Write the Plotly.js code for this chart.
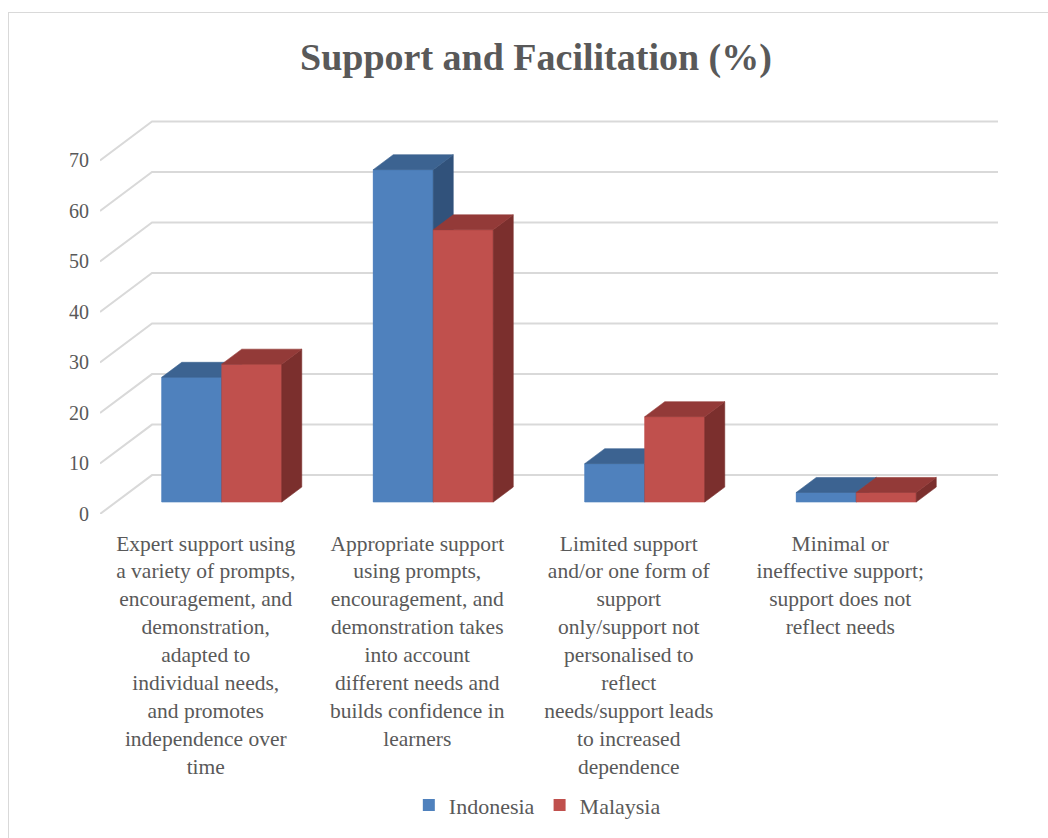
<!DOCTYPE html>
<html><head><meta charset="utf-8">
<script src="https://cdn.plot.ly/plotly-3.0.1.min.js"></script>
<style>
html,body{margin:0;padding:0;background:#fff;overflow:hidden}
#frame{position:absolute;left:8px;top:12px;width:1100px;height:900px;border:1px solid #d9d9d9;box-sizing:border-box}
#chart{position:absolute;left:0;top:0;width:1048px;height:838px}
</style></head><body>
<div id="frame"></div>
<div id="chart"></div>
<script>
// ---- data ----
const categories = [
  "Expert support using<br>a variety of prompts,<br>encouragement, and<br>demonstration,<br>adapted to<br>individual needs,<br>and promotes<br>independence over<br>time",
  "Appropriate support<br>using prompts,<br>encouragement, and<br>demonstration takes<br>into account<br>different needs and<br>builds confidence in<br>learners",
  "Limited support<br>and/or one form of<br>support<br>only/support not<br>personalised to<br>reflect<br>needs/support leads<br>to increased<br>dependence",
  "Minimal or<br>ineffective support;<br>support does not<br>reflect needs"
];
const indonesia = [24.7, 65.8, 7.6, 1.9];
const malaysia  = [27.3, 53.9, 16.9, 1.9];
const seriesNames = ["Indonesia", "Malaysia"];
const yTicks = [0, 10, 20, 30, 40, 50, 60, 70];
const chartTitle = "Support and Facilitation (%)";

// ---- styling / projection constants ----
const FONT = "Liberation Serif, Times New Roman, serif";
const TXT = "#595959";
const GRID = "#d9d9d9";
const depthX = 0.2459;   // full floor depth, in category units
const depthY = 7.7;      // full floor depth, in value units
const f0 = 0.3075, f1 = 0.6925; // bar front / back depth fractions
const barW = 0.2837;
const colors = [
  {front: "#4f81bd", top: "#3c6391", side: "#31527b"},
  {front: "#c0504d", top: "#933a38", side: "#7b2f2d"}
];
const idx = categories.map((_, i) => i);
const xMin = -0.5, xMax = categories.length - 0.5;
const yTop = yTicks[yTicks.length - 1] + depthY + 0.3;

// gridlines (wall + floor diagonals)
const shapes = yTicks.map(v => ({
  type: "path", xref: "x", yref: "y", layer: "below",
  path: `M${xMin},${v} L${xMin + depthX},${v + depthY} L${xMax + depthX},${v + depthY}`,
  line: {color: GRID, width: 2}
}));

const traces = [];
const allSeries = [indonesia, malaysia];
// legend/base bars (front faces through the library's bar scale)
allSeries.forEach((vals, s) => {
  traces.push({
    type: "bar", name: seriesNames[s], x: idx, y: vals,
    base: f0 * depthY,
    offset: f0 * depthX - barW + s * barW, width: barW,
    marker: {color: colors[s].front, line: {width: 0}},
    hoverinfo: "skip"
  });
});
// 3D faces
allSeries.forEach((vals, s) => {
  const faces = {front: {x: [], y: []}, side: {x: [], y: []}, top: {x: [], y: []}};
  vals.forEach((v, i) => {
    const xl = i + f0 * depthX - barW + s * barW;
    const xr = xl + barW;
    const b0 = f0 * depthY, b1 = f1 * depthY;
    const ddx = (f1 - f0) * depthX;
    const push = (f, xs, ys) => { f.x.push(...xs, xs[0], null); f.y.push(...ys, ys[0], null); };
    push(faces.front, [xl, xr, xr, xl], [b0, b0, b0 + v, b0 + v]);
    push(faces.side, [xr, xr + ddx, xr + ddx, xr], [b0, b1, b1 + v, b0 + v]);
    push(faces.top, [xl, xr, xr + ddx, xl + ddx], [b0 + v, b0 + v, b1 + v, b1 + v]);
  });
  ["front", "side", "top"].forEach(k => {
    traces.push({
      type: "scatter", mode: "lines", x: faces[k].x, y: faces[k].y,
      fill: "toself", fillcolor: colors[s][k],
      line: {color: colors[s][k], width: 0.6},
      showlegend: false, hoverinfo: "skip"
    });
  });
});

const layout = {
  width: 1048, height: 838,
  paper_bgcolor: "rgba(0,0,0,0)", plot_bgcolor: "rgba(0,0,0,0)",
  margin: {l: 100, r: 50, t: 120, b: 121.3, pad: 0},
  hovermode: false,
  barmode: "overlay",
  title: {
    text: "<b>" + chartTitle + "</b>",
    font: {family: FONT, size: 38, color: TXT},
    x: 536 / 1048, xref: "container", xanchor: "center",
    y: 1 - 57 / 838, yref: "container", yanchor: "middle"
  },
  xaxis: {
    range: [xMin, xMax + depthX], showgrid: false, zeroline: false, showline: false,
    tickmode: "array", tickvals: idx, ticktext: categories, ticks: "",
    ticklabelstandoff: 14,
    tickfont: {family: FONT, size: 21.5, color: TXT}, fixedrange: true
  },
  yaxis: {
    range: [0, yTop], showgrid: false, zeroline: false, showline: false,
    tickmode: "array", tickvals: yTicks, ticks: "",
    ticklabelstandoff: 10,
    tickfont: {family: FONT, size: 20, color: TXT}, fixedrange: true
  },
  shapes: shapes,
  showlegend: true,
  legend: {
    orientation: "h", x: 0.487, xanchor: "center", y: -0.739, yanchor: "middle",
    font: {family: FONT, size: 22, color: TXT}, traceorder: "normal", itemwidth: 30
  }
};

Plotly.newPlot("chart", traces, layout, {displayModeBar: false, staticPlot: true});
</script>
</body></html>
